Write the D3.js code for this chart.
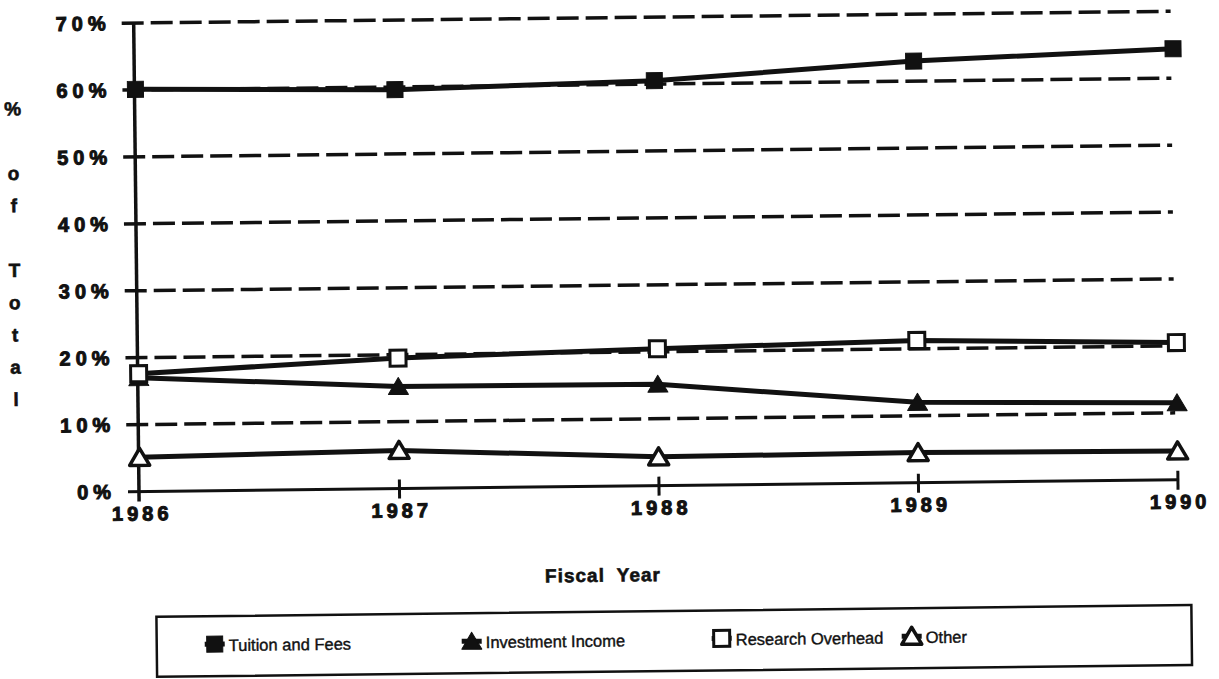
<!DOCTYPE html>
<html lang="en">
<head>
  <meta charset="UTF-8" />
  <title>Revenue Sources, % of Total</title>
  <script src="https://cdn.jsdelivr.net/npm/d3@7"></script>
  <style>
    body { margin: 0; background: #fff; }
    svg { display: block; background: #fff; }
    .tick-label { font-family: "Liberation Sans", Arial, sans-serif; font-weight: bold; font-size: 20px; fill: #111; stroke: #111; stroke-width: 1px; }
    .axis-title { font-family: "Liberation Sans", Arial, sans-serif; font-weight: bold; font-size: 19px; fill: #111; stroke: #111; stroke-width: 0.6px; }
    .legend text { font-family: "Liberation Sans", Arial, sans-serif; font-size: 16.5px; fill: #111; stroke: #111; stroke-width: 0.4px; }
  </style>
</head>
<body>
<svg width="1219" height="679"></svg>
<script>
  // values (% of total)
  const years = [1986, 1987, 1988, 1989, 1990];
  const tuition = [60.1, 59.6, 60.5, 63.0, 64.4];
  const investment = [17.0, 15.25, 15.15, 12.0, 11.5];
  const research = [17.6, 19.5, 20.45, 21.25, 20.5];
  const other = [5.1, 5.7, 4.3, 4.5, 4.3];
  const yTicks = [0, 10, 20, 30, 40, 50, 60, 70];
  const seriesNames = ["Tuition and Fees", "Investment Income", "Research Overhead", "Other"];
  const yTitle = ["%", "", "o", "f", "", "T", "o", "t", "a", "l"];

  const series = [
    { name: seriesNames[0], values: tuition, shape: "square", fill: "#111" },
    { name: seriesNames[1], values: investment, shape: "triangle", fill: "#111" },
    { name: seriesNames[2], values: research, shape: "square", fill: "#fff" },
    { name: seriesNames[3], values: other, shape: "triangle", fill: "#fff" }
  ];

  const svg = d3.select("svg");
  // the original is a slightly crooked scan, so the whole chart is tilted a bit
  const root = svg.append("g").attr("transform", "rotate(-0.65,140,492)");

  const x = d3.scalePoint().domain(years).range([140, 1178]);
  const y = d3.scaleLinear().domain([0, 70]).range([491.5, 23]);

  // dashed gridlines (with little ticks left of the axis)
  root.append("g").selectAll("line")
    .data(yTicks.filter(d => d > 0))
    .join("line")
    .attr("x1", 127).attr("x2", 1176)
    .attr("y1", d => y(d)).attr("y2", d => y(d))
    .attr("stroke", "#111")
    .attr("stroke-width", 3.5)
    .attr("stroke-dasharray", "22,7");

  // y axis
  root.append("line")
    .attr("x1", 139).attr("x2", 139)
    .attr("y1", y(70)).attr("y2", y(0) + 10)
    .attr("stroke", "#111").attr("stroke-width", 3.5);

  // x axis with ticks through it
  root.append("line")
    .attr("x1", 128).attr("x2", x(1990))
    .attr("y1", y(0)).attr("y2", y(0))
    .attr("stroke", "#111").attr("stroke-width", 3);

  root.append("g").selectAll("line")
    .data(years.slice(1))
    .join("line")
    .attr("x1", d => x(d)).attr("x2", d => x(d))
    .attr("y1", y(0) - 9).attr("y2", y(0) + 10)
    .attr("stroke", "#111").attr("stroke-width", 3);

  // tick labels
  root.append("g").selectAll("text")
    .data(yTicks)
    .join("text")
    .attr("class", "tick-label")
    .attr("x", 116)
    .attr("y", d => y(d) + 7)
    .attr("text-anchor", "end")
    .attr("letter-spacing", 5)
    .text(d => d + "%");

  root.append("g").selectAll("text")
    .data(years)
    .join("text")
    .attr("class", "tick-label")
    .attr("font-size", 21)
    .attr("x", d => x(d) + 2)
    .attr("y", y(0) + 29)
    .attr("text-anchor", "middle")
    .attr("letter-spacing", 4)
    .text(d => d);

  // axis titles
  root.append("text")
    .attr("class", "axis-title")
    .attr("x", 602).attr("y", 587)
    .attr("text-anchor", "middle")
    .attr("letter-spacing", 1)
    .attr("word-spacing", 6)
    .text("Fiscal Year");

  root.append("g").selectAll("text")
    .data(yTitle)
    .join("text")
    .attr("class", "axis-title")
    .attr("font-size", 17)
    .attr("x", 17)
    .attr("y", (d, i) => 114 + i * 32.3)
    .attr("text-anchor", "middle")
    .text(d => d);

  // series lines and markers
  const line = d3.line()
    .x((d, i) => x(years[i]))
    .y(d => y(d));

  function marker(sel, shape, fill) {
    if (shape === "square") {
      sel.append("rect")
        .attr("x", -8).attr("y", -8)
        .attr("width", 16).attr("height", 16)
        .attr("fill", fill)
        .attr("stroke", "#111")
        .attr("stroke-width", fill === "#fff" ? 3 : 1);
    } else {
      sel.append("path")
        .attr("d", "M0,-9L10,8L-10,8Z")
        .attr("fill", fill)
        .attr("stroke", "#111")
        .attr("stroke-linejoin", "round")
        .attr("stroke-width", fill === "#fff" ? 3.5 : 1);
    }
  }

  series.forEach(s => {
    root.append("path")
      .datum(s.values)
      .attr("d", line)
      .attr("fill", "none")
      .attr("stroke", "#111")
      .attr("stroke-width", 5);
  });

  series.forEach(s => {
    root.append("g").selectAll("g")
      .data(s.values)
      .join("g")
      .attr("transform", (d, i) => `translate(${x(years[i])},${y(d)})`)
      .each(function () { marker(d3.select(this), s.shape, s.fill); });
  });

  // legend
  const legend = root.append("g").attr("class", "legend");
  legend.append("rect")
    .attr("x", 155).attr("y", 617)
    .attr("width", 1035).attr("height", 60)
    .attr("fill", "none")
    .attr("stroke", "#111").attr("stroke-width", 2.5);

  const legendX = [213, 470, 720, 910];
  series.forEach((s, i) => {
    const g = legend.append("g").attr("transform", `translate(${legendX[i]},645)`);
    g.append("line")
      .attr("x1", -10).attr("x2", 10)
      .attr("stroke", "#111").attr("stroke-width", 5);
    marker(g, s.shape, s.fill);
    g.append("text")
      .attr("x", 14).attr("y", 7)
      .text(s.name);
  });
</script>
</body>
</html>
